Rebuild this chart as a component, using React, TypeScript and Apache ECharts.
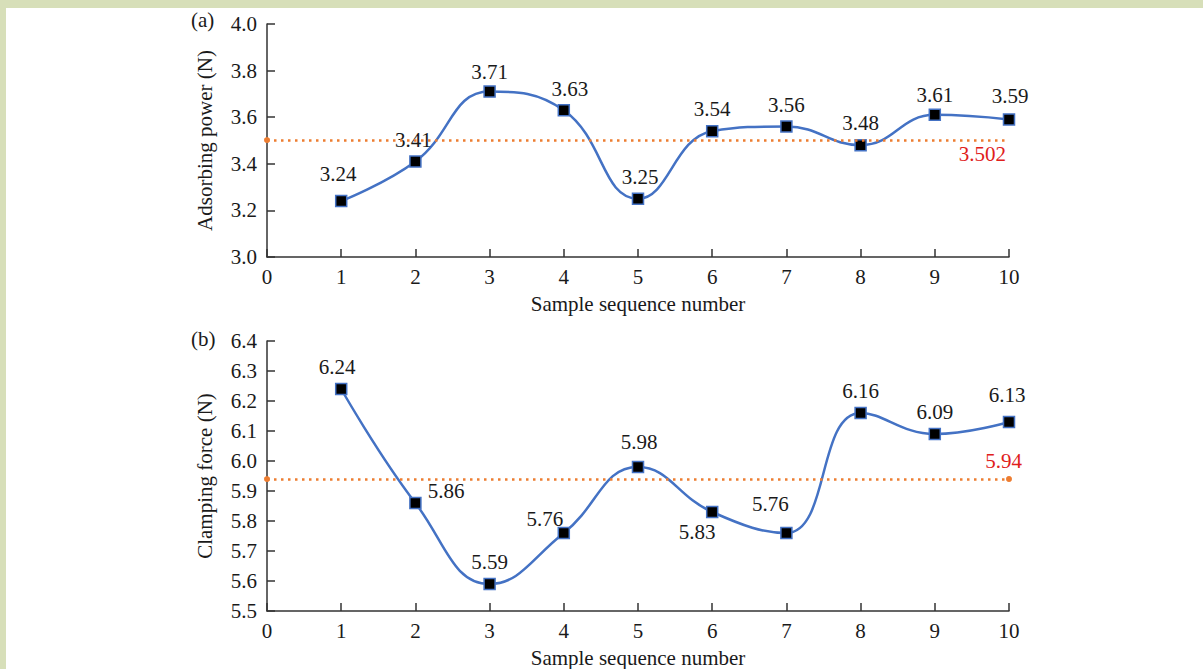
import React, { useEffect, useRef } from "react";
import * as echarts from "echarts";

const xTicks = [0, 10];
const samples = [1, 2, 3, 4, 5, 6, 7, 8, 9, 10];
const adsorbing = [3.24, 3.41, 3.71, 3.63, 3.25, 3.54, 3.56, 3.48, 3.61, 3.59];
const clamping = [6.24, 5.86, 5.59, 5.76, 5.98, 5.83, 5.76, 6.16, 6.09, 6.13];
const meanA = 3.502;
const meanB = 5.94;
const yRangeA = [3.0, 4.0, 0.2];
const yRangeB = [5.5, 6.4, 0.1];

// label tweaks per point: [position, offsetX, offsetY]
const labelA: [string, number, number][] = [
  ["top", -3, -4], ["top", -2, 1], ["top", 0, 3], ["top", 6, 2], ["top", 2, 1],
  ["top", 0, 1], ["top", 0, 1], ["top", 0, 1], ["top", 0, 3], ["top", 1, -1],
];
const labelB: [string, number, number][] = [
  ["top", -4, 1], ["right", 0, -12], ["top", 0, 1], ["top", -19, 9], ["top", 1, -2],
  ["bottom", -15, -3], ["top", -16, -6], ["top", 0, 1], ["top", 0, 1], ["top", -2, -4],
];

const FONT = "Liberation Serif";
const FS = 21;
const TXT = "#1a1a1a";
const BLUE = "#4472C4";
const ORANGE = "#ED7D31";
const RED = "#E0201B";

function buildData(vals: number[], tweaks: [string, number, number][]) {
  return vals.map((v, i) => ({
    value: [samples[i], v],
    label: { position: tweaks[i][0], offset: [tweaks[i][1], tweaks[i][2]] },
  }));
}

export default function App() {
  const ref = useRef<HTMLDivElement>(null);
  useEffect(() => {
    if (!ref.current) return;
    const chart = echarts.init(ref.current, null, { renderer: "svg" });
    const xAxisCommon = (gridIndex: number) => ({
      type: "value",
      gridIndex,
      min: xTicks[0],
      max: xTicks[1],
      interval: 1,
      name: "Sample sequence number",
      nameLocation: "middle",
      nameGap: 36,
      nameTextStyle: { fontFamily: FONT, fontSize: FS, color: TXT },
      axisLine: { show: true, lineStyle: { color: "#333", width: 1.5 } },
      axisTick: { show: true, inside: true, length: 8, lineStyle: { color: "#333", width: 1.5 } },
      axisLabel: { fontFamily: FONT, fontSize: FS, color: TXT, margin: 9 },
      splitLine: { show: false },
    });
    const yAxisCommon = (gridIndex: number, r: number[], name: string) => ({
      type: "value",
      gridIndex,
      min: r[0],
      max: r[1],
      interval: r[2],
      name,
      nameLocation: "middle",
      nameGap: 52,
      nameTextStyle: { fontFamily: FONT, fontSize: FS, color: TXT },
      axisLine: { show: true, lineStyle: { color: "#333", width: 1.5 } },
      axisTick: { show: true, inside: true, length: 8, lineStyle: { color: "#333", width: 1.5 } },
      axisLabel: {
        fontFamily: FONT, fontSize: FS, color: TXT, margin: 10,
        formatter: (v: number) => v.toFixed(1),
      },
      splitLine: { show: false },
    });
    const lineSeries = (idx: number, vals: number[], tweaks: [string, number, number][], mean: number, meanLabelPos: string, endSymbol: string, meanDist: any) => ({
      type: "line",
      xAxisIndex: idx,
      yAxisIndex: idx,
      data: buildData(vals, tweaks),
      smooth: 0.45,
      symbol: "rect",
      symbolSize: 11,
      lineStyle: { color: BLUE, width: 2.5 },
      itemStyle: { color: "#000", borderColor: BLUE, borderWidth: 1.5 },
      label: {
        show: true,
        distance: 6,
        fontFamily: FONT,
        fontSize: FS,
        color: TXT,
        formatter: (p: any) => p.value[1].toFixed(2),
      },
      z: 3,
      markLine: {
        silent: true,
        symbol: ["circle", endSymbol],
        symbolSize: 6,
        lineStyle: { color: ORANGE, type: [2.5, 4.5], width: 2.5 },
        itemStyle: { color: RED },
        label: {
          show: true,
          position: meanLabelPos,
          distance: meanDist,
          fontFamily: FONT,
          fontSize: FS,
          color: RED,
          formatter: String(mean),
        },
        data: [[{ coord: [xTicks[0], mean] }, { coord: [xTicks[1], mean] }]],
      },
    });
    chart.setOption({
      animation: false,
      backgroundColor: "#ffffff",
      graphic: [
        { type: "rect", shape: { x: 0, y: 0, width: 1203, height: 8 }, style: { fill: "#d7dfb9" } },
        { type: "rect", shape: { x: 0, y: 0, width: 6, height: 669 }, style: { fill: "#d7dfb9" } },
        { type: "text", left: 191, top: 9, style: { text: "(a)", fontFamily: FONT, fontSize: FS, fill: TXT } },
        { type: "text", left: 191, top: 328, style: { text: "(b)", fontFamily: FONT, fontSize: FS, fill: TXT } },
      ],
      grid: [
        { left: 267, right: 194, top: 24, height: 233 },
        { left: 267, right: 194, top: 341, height: 274 },
      ],
      xAxis: [xAxisCommon(0), xAxisCommon(1)],
      yAxis: [
        yAxisCommon(0, yRangeA, "Adsorbing power (N)"),
        yAxisCommon(1, yRangeB, "Clamping force (N)"),
      ],
      series: [
        lineSeries(0, adsorbing, labelA, meanA, "insideEndBottom", "none", 3),
        lineSeries(1, clamping, labelB, meanB, "insideEndTop", "circle", [-13, 8]),
      ],
    });
    return () => chart.dispose();
  }, []);
  return (
    <div
      ref={ref}
      style={{ position: "fixed", left: 0, top: 0, width: 1203, height: 669 }}
    />
  );
}
